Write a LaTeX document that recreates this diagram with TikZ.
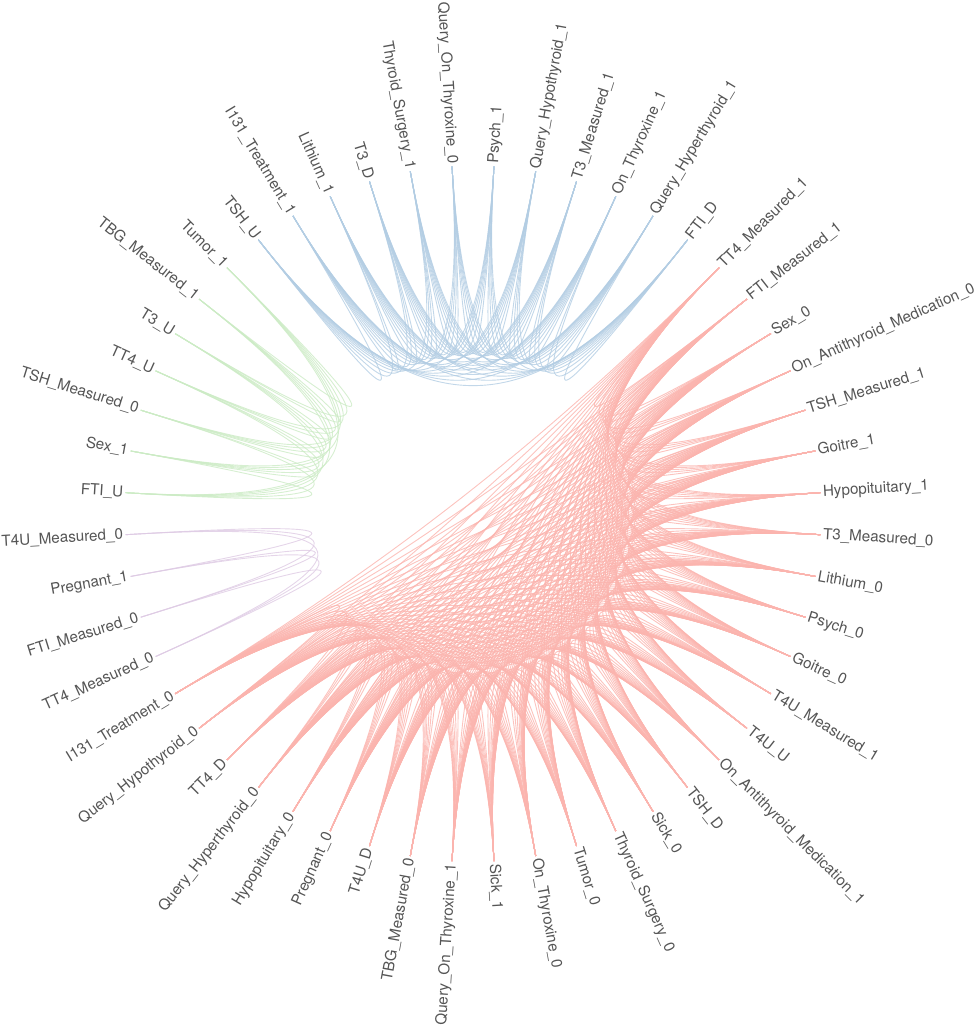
\documentclass[tikz,border=0pt]{standalone}
\usepackage{fontspec}
\setmainfont{TeX Gyre Heros}
\usetikzlibrary{calc}
\definecolor{cred}{HTML}{FBB4AE}
\definecolor{cblue}{HTML}{B3CDE3}
\definecolor{cgreen}{HTML}{CCEBC5}
\definecolor{cpurple}{HTML}{DECBE4}
\definecolor{labelgray}{HTML}{555555}
\begin{document}
\begin{tikzpicture}[x=1pt,y=1pt,
  edge/.style={line width=0.9pt, opacity=0.8},
  lbl/.style={font=\fontsize{15.2}{18}\selectfont, text=labelgray, inner sep=0pt}]
\useasboundingbox (0,0) rectangle (980,1026);
\coordinate (c) at (473,512.3);
\def\R{348}
% nodes and labels
\foreach \k/\t in {0/Psych\_1, 1/Query\_Hypothyroid\_1, 2/T3\_Measured\_1, 3/On\_Thyroxine\_1,
  4/Query\_Hyperthyroid\_1, 5/FTI\_D, 6/TT4\_Measured\_1, 7/FTI\_Measured\_1, 8/Sex\_0,
  9/On\_Antithyroid\_Medication\_0, 10/TSH\_Measured\_1, 11/Goitre\_1, 12/Hypopituitary\_1,
  13/T3\_Measured\_0, 14/Lithium\_0, 15/Psych\_0, 16/Goitre\_0, 17/T4U\_Measured\_1, 18/T4U\_U,
  19/On\_Antithyroid\_Medication\_1, 20/TSH\_D, 21/Sick\_0, 22/Thyroid\_Surgery\_0, 23/Tumor\_0,
  24/On\_Thyroxine\_0, 25/Sick\_1, 26/Query\_On\_Thyroxine\_1, 27/TBG\_Measured\_0, 28/T4U\_D,
  29/Pregnant\_0, 30/Hypopituitary\_0, 31/Query\_Hyperthyroid\_0, 32/TT4\_D,
  33/Query\_Hypothyroid\_0, 34/I131\_Treatment\_0, 35/TT4\_Measured\_0, 36/FTI\_Measured\_0,
  37/Pregnant\_1, 38/T4U\_Measured\_0, 39/FTI\_U, 40/Sex\_1, 41/TSH\_Measured\_0, 42/TT4\_U,
  43/T3\_U, 44/TBG\_Measured\_1, 45/Tumor\_1, 46/TSH\_U, 47/I131\_Treatment\_1, 48/Lithium\_1,
  49/T3\_D, 50/Thyroid\_Surgery\_1, 51/Query\_On\_Thyroxine\_0} {
  \pgfmathsetmacro\ang{86.5385-\k*6.923077}
  \pgfmathsetmacro\ca{cos(\ang)}
  \coordinate (n\k) at ($(c)+(\ang:\R)$);
  \ifdim\ca pt>0pt
    \node[lbl, anchor=west, rotate=\ang] (l\k) at ($(c)+(\ang:\R+2.5)$) {\t};
  \else
    \pgfmathsetmacro\rot{\ang+180}
    \node[lbl, anchor=east, rotate=\rot] (l\k) at ($(c)+(\ang:\R+2.5)$) {\t};
  \fi
}
% red clique 6..34
\foreach \i in {6,...,33} {
  \pgfmathtruncatemacro\s{\i+1}
  \foreach \j in {\s,...,34} {
    \draw[edge, cred] (n\i) .. controls ($(n\i)!0.71!(c)$) and ($(n\j)!0.71!(c)$) .. (n\j);
  }
}
% purple clique 35..38
\foreach \i in {35,...,37} {
  \pgfmathtruncatemacro\s{\i+1}
  \foreach \j in {\s,...,38} {
    \draw[edge, cpurple] (n\i) .. controls ($(n\i)!0.71!(c)$) and ($(n\j)!0.71!(c)$) .. (n\j);
  }
}
% green clique 39..45
\foreach \i in {39,...,44} {
  \pgfmathtruncatemacro\s{\i+1}
  \foreach \j in {\s,...,45} {
    \draw[edge, cgreen] (n\i) .. controls ($(n\i)!0.71!(c)$) and ($(n\j)!0.71!(c)$) .. (n\j);
  }
}
% blue clique 46..51,0..5
\foreach \i in {46,...,56} {
  \pgfmathtruncatemacro\s{\i+1}
  \pgfmathtruncatemacro\a{mod(\i,52)}
  \foreach \jj in {\s,...,57} {
    \pgfmathtruncatemacro\b{mod(\jj,52)}
    \draw[edge, cblue] (n\a) .. controls ($(n\a)!0.71!(c)$) and ($(n\b)!0.71!(c)$) .. (n\b);
  }
}
\end{tikzpicture}
\end{document}
